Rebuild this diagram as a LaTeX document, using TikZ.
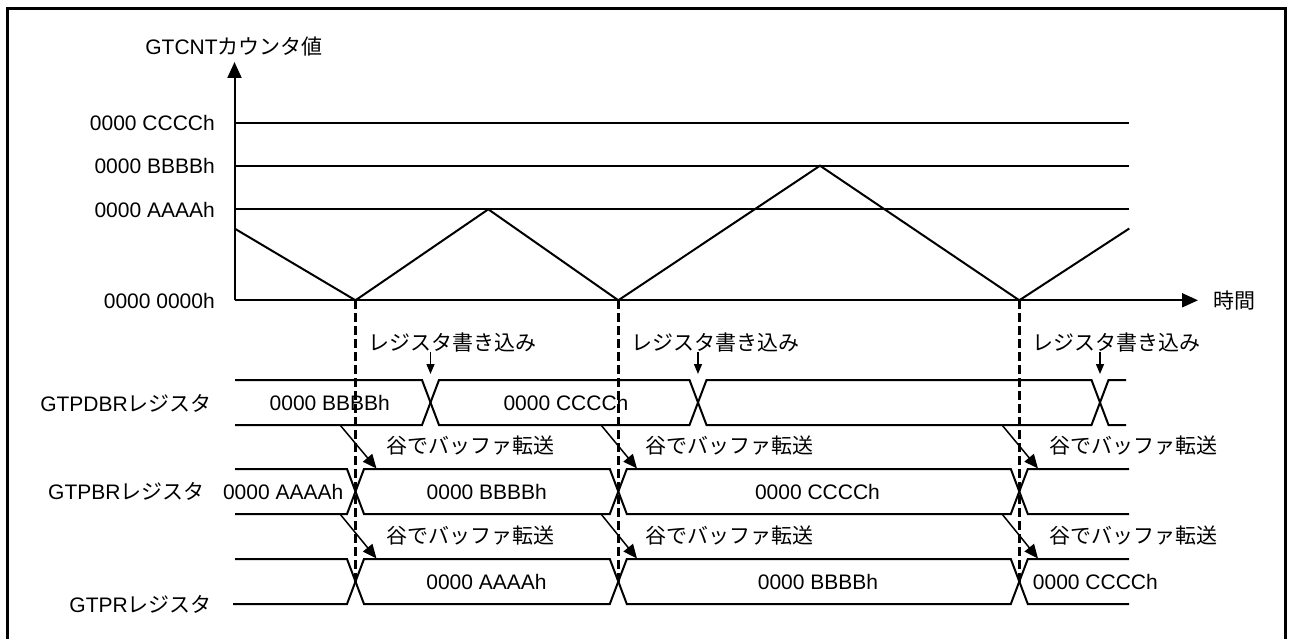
\documentclass[tikz,border=0pt]{standalone}
\usepackage{fontspec}
\setmainfont{Liberation Sans}
\newfontfamily\cjk{Noto Sans CJK JP}
\usetikzlibrary{arrows.meta}
\begin{document}
\begin{tikzpicture}[x=1pt,y=-1pt,
  lbl/.style={font=\fontsize{21}{25}\selectfont, inner sep=0pt, anchor=base},
  lble/.style={lbl, anchor=base east},
  lblw/.style={lbl, anchor=base west},
  sig/.style={line width=2pt, line join=miter},
  axis/.style={line width=2pt, -{Triangle[length=16pt,width=14pt]}},
  valley/.style={line width=3pt, dash pattern=on 9pt off 4pt},
  wrarrow/.style={line width=1.5pt, -{Triangle[length=10pt,width=8pt]}},
  xfer/.style={line width=1.5pt, -{Triangle[length=14pt,width=12pt]}},
  framebox/.style={line width=3pt}
]
\useasboundingbox (0,0) rectangle (1290,639);
\draw[framebox] (7.5,645) -- (7.5,8.5) -- (1285.6,8.5) -- (1285.6,645);

% axes
\coordinate (org) at (234.5,300.3);
\coordinate (ytip) at (234.5,62);
\coordinate (xtip) at (1198,300.3);
\draw[axis] (org) -- (ytip);
\draw[axis] (org) -- (xtip);
\node[lbl] (ytitle) at (234,55) {GTCNT{\cjk カウンタ値}};
\node[lblw] (xtitle) at (1213,308) {\cjk 時間};

% level lines
\draw[sig] (234.5,122.7) -- (1129.3,122.7);
\draw[sig] (234.5,165.7) -- (1129.3,165.7);
\draw[sig] (234.5,209.3) -- (1129.3,209.3);
\node[lble] (lc) at (215,130.7) {0000 CCCCh};
\node[lble] (lb) at (215,173.7) {0000 BBBBh};
\node[lble] (la) at (215,217.3) {0000 AAAAh};
\node[lble] (l0) at (215,308.3) {0000 0000h};

% triangle wave
\draw[sig] (234.5,228.5) -- (355.5,300.3) -- (488.3,209.3) -- (618.3,300.3) -- (820,165.7) -- (1019.3,300.3) -- (1129.3,228.5);

% valley dashed lines
\draw[valley] (355.5,300.3) -- (355.5,582);
\draw[valley] (618.3,300.3) -- (618.3,582);
\draw[valley] (1019.3,300.3) -- (1019.3,582);

% register labels
\node[lble] (rpdbr) at (212,411) {GTPDBR{\cjk レジスタ}};
\node[lblw] (rpbr) at (48,499) {GTPBR{\cjk レジスタ}};
\node[lble] (rpr) at (212,612.5) {GTPR{\cjk レジスタ}};

% GTPDBR bus
\draw[sig] (235,380) -- (422,380) -- (439,425) -- (689.5,425) -- (706.5,380) -- (1091.5,380) -- (1108.5,425) -- (1126,425);
\draw[sig] (235,425) -- (422,425) -- (439,380) -- (689.5,380) -- (706.5,425) -- (1091.5,425) -- (1108.5,380) -- (1126,380);
\node[lbl] (d1) at (329.8,410) {0000 BBBBh};
\node[lbl] (d2) at (566,410) {0000 CCCCh};

% GTPBR bus
\draw[sig] (235,469) -- (347,469) -- (364,514) -- (609.8,514) -- (626.8,469) -- (1010.8,469) -- (1027.8,514) -- (1129,514);
\draw[sig] (235,514) -- (347,514) -- (364,469) -- (609.8,469) -- (626.8,514) -- (1010.8,514) -- (1027.8,469) -- (1129,469);
\node[lblw] (b0) at (222.8,499) {0000 AAAAh};
\node[lbl] (b1) at (486.8,499) {0000 BBBBh};
\node[lbl] (b2) at (817.5,499) {0000 CCCCh};

% GTPR bus
\draw[sig] (235,559) -- (347,559) -- (364,604) -- (609.8,604) -- (626.8,559) -- (1010.8,559) -- (1027.8,604) -- (1129,604);
\draw[sig] (233,604) -- (347,604) -- (364,559) -- (609.8,559) -- (626.8,604) -- (1010.8,604) -- (1027.8,559) -- (1129,559);
\node[lbl] (p1) at (486.5,589) {0000 AAAAh};
\node[lbl] (p2) at (818,589) {0000 BBBBh};
\node[lblw] (p3) at (1032.7,589) {0000 CCCCh};

% register write labels and arrows
\node[lblw] (w1) at (368,350) {\cjk レジスタ書き込み};
\node[lblw] (w2) at (631.5,350) {\cjk レジスタ書き込み};
\node[lblw] (w3) at (1032.7,350) {\cjk レジスタ書き込み};
\coordinate (w1s) at (430.5,352); \coordinate (w1e) at (430.5,374);
\coordinate (w2s) at (698,352);   \coordinate (w2e) at (698,374);
\coordinate (w3s) at (1100,352);  \coordinate (w3e) at (1100,374);
\draw[wrarrow] (w1s) -- (w1e);
\draw[wrarrow] (w2s) -- (w2e);
\draw[wrarrow] (w3s) -- (w3e);

% buffer transfer labels and arrows
\node[lblw] (t11) at (386,453.5) {\cjk 谷でバッファ転送};
\node[lblw] (t12) at (645.6,453.5) {\cjk 谷でバッファ転送};
\node[lblw] (t13) at (1049,453.5) {\cjk 谷でバッファ転送};
\node[lblw] (t21) at (386,543.5) {\cjk 谷でバッファ転送};
\node[lblw] (t22) at (645.6,543.5) {\cjk 谷でバッファ転送};
\node[lblw] (t23) at (1049,543.5) {\cjk 谷でバッファ転送};
\coordinate (a11s) at (340,425);  \coordinate (a11e) at (376.5,468.5);
\coordinate (a12s) at (601,425);  \coordinate (a12e) at (637,468.5);
\coordinate (a13s) at (1002,425); \coordinate (a13e) at (1038,468.5);
\coordinate (a21s) at (340,514);  \coordinate (a21e) at (376.5,558.5);
\coordinate (a22s) at (601,514);  \coordinate (a22e) at (637,558.5);
\coordinate (a23s) at (1002,514); \coordinate (a23e) at (1038,558.5);
\draw[xfer] (a11s) -- (a11e);
\draw[xfer] (a12s) -- (a12e);
\draw[xfer] (a13s) -- (a13e);
\draw[xfer] (a21s) -- (a21e);
\draw[xfer] (a22s) -- (a22e);
\draw[xfer] (a23s) -- (a23e);
\end{tikzpicture}
\end{document}
